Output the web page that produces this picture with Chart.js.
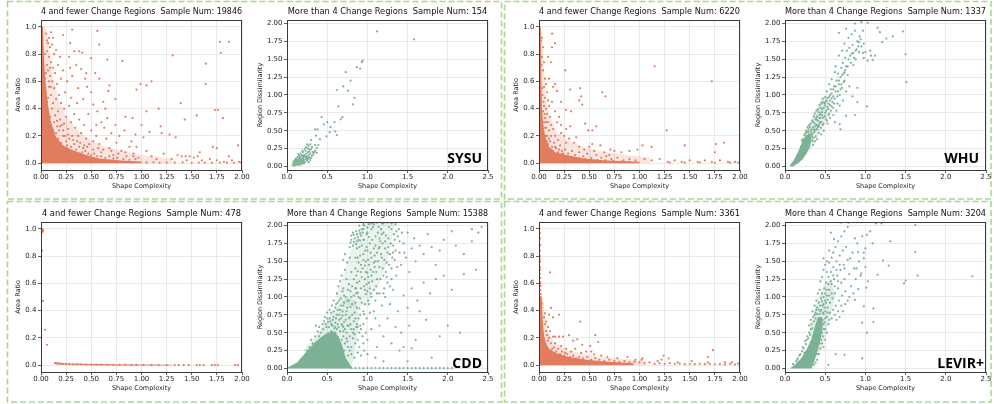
<!DOCTYPE html>
<html><head><meta charset="utf-8">
<script src="https://cdn.jsdelivr.net/npm/chart.js@4.4.0/dist/chart.umd.min.js"></script>
<style>
html,body{margin:0;padding:0;background:#fff;width:994px;height:404px;overflow:hidden;}
#wrap{position:relative;width:994px;height:404px;overflow:hidden;}
canvas{position:absolute;}
svg{position:absolute;left:0;top:0;}
.tag{position:absolute;font-family:'Open Sans',sans-serif;font-weight:700;font-size:14px;line-height:14px;color:#000;white-space:nowrap;text-align:right;}
</style></head><body><div id="wrap">
<svg width="994" height="404"><g fill="none" stroke="#a9d78e" stroke-width="1.6" stroke-dasharray="6 3">
<rect x="7.5" y="1.5" width="494" height="197.5"/>
<rect x="504.5" y="1.5" width="486.5" height="197.5"/>
<rect x="7.5" y="201.5" width="494" height="200.5"/>
<rect x="504.5" y="201.5" width="486.5" height="200.5"/>
</g></svg>
</div>
<script>
// ---------- labels / counts ----------
const datasetNames = ['SYSU', 'WHU', 'CDD', 'LEVIR+'];
const fewCounts = [19846, 6220, 478, 3361];
const moreCounts = [154, 1337, 15388, 3204];
const fewTitle = '4 and fewer Change Regions  Sample Num: ';
const moreTitle = 'More than 4 Change Regions  Sample Num: ';

// ---------- tick values ----------
const fewXTicks = [0, 0.25, 0.5, 0.75, 1, 1.25, 1.5, 1.75, 2];
const fewYTicks = [0, 0.2, 0.4, 0.6, 0.8, 1];
const moreXTicks = [0, 0.5, 1, 1.5, 2, 2.5];
const moreYTicks = [0, 0.25, 0.5, 0.75, 1, 1.25, 1.5, 1.75, 2];

// ---------- SYSU ----------
const sysuFewCore = [[0,1.0],[0.02,1.0],[0.026,0.85],[0.035,0.7],[0.045,0.6],[0.058,0.5],[0.075,0.4],[0.1,0.3],[0.15,0.19],[0.22,0.13],[0.32,0.095],[0.45,0.06],[0.58,0.035],[0.8,0.02],[1.0,0.012],[1.0,0],[0,0]];
const sysuFewHalo = [[0,1.0],[0.04,1.0],[0.07,0.9],[0.09,0.8],[0.13,0.6],[0.18,0.45],[0.25,0.35],[0.35,0.25],[0.45,0.19],[0.6,0.13],[0.78,0.095],[1.0,0.06],[1.3,0.035],[1.3,0],[0,0]];
const sysuFewPts = [[0.31,0.98],[0.56,0.97],[0.22,0.94],[0.10,0.96],[0.29,0.88],[0.58,0.87],[1.31,0.79],[0.81,0.75],[0.66,0.76],[1.87,0.89],[1.78,0.89],[1.79,0.81],[1.64,0.73],[1.64,0.58],[0.95,0.54],[0.99,0.58],[1.05,0.57],[1.10,0.60],[0.68,0.57],[0.67,0.53],[0.74,0.47],[0.64,0.40],[1.17,0.40],[1.05,0.38],[1.39,0.44],[1.43,0.32],[1.55,0.35],[1.73,0.39],[1.76,0.39],[1.81,0.33],[1.75,0.11],[1.96,0.13],[1.87,0.05],[0.84,0.34],[0.91,0.33],[1.00,0.28],[1.19,0.27],[1.20,0.22],[1.28,0.21],[1.34,0.19],[0.94,0.21],[1.02,0.19],[1.08,0.23],[1.40,0.05],[1.44,0.05],[1.48,0.05],[1.56,0.05],[1.58,0.08],[1.71,0.12],
[0.05,0.95],[0.07,0.88],[0.06,0.82],[0.09,0.85],[0.11,0.87],[0.08,0.78],[0.1,0.74],[0.13,0.8],[0.15,0.83],[0.12,0.7],[0.07,0.68],[0.09,0.64],[0.14,0.66],[0.17,0.72],[0.19,0.78],[0.11,0.6],[0.16,0.58],[0.13,0.55],[0.08,0.56],[0.2,0.62],[0.22,0.68],[0.18,0.5],[0.1,0.5],[0.15,0.47],[0.12,0.44],[0.2,0.44],[0.24,0.52],[0.26,0.6],[0.23,0.4],[0.17,0.38],[0.28,0.42],[0.3,0.48],[0.14,0.35],[0.19,0.32],[0.25,0.34],[0.21,0.28],[0.3,0.3],[0.33,0.36],[0.36,0.44],[0.27,0.25],[0.16,0.27],[0.34,0.26],[0.38,0.32],[0.4,0.22],[0.31,0.2],[0.22,0.2],[0.25,0.16],[0.36,0.16],[0.43,0.28],[0.45,0.18],[0.5,0.24],[0.48,0.14],[0.55,0.2],[0.42,0.11],[0.52,0.1],[0.58,0.14],[0.6,0.08],[0.65,0.18],[0.68,0.11],[0.72,0.06],[0.75,0.15],[0.8,0.09],[0.85,0.05],[0.88,0.12],[0.92,0.07],[0.97,0.04],[1.05,0.09],[1.1,0.05],[1.15,0.03],[1.22,0.07],[1.3,0.03],[1.36,0.06],[1.45,0.02],[1.52,0.04],[1.6,0.02],[1.68,0.03],[1.75,0.02],[1.82,0.01],[1.9,0.02],[1.97,0.01],
[0.28,0.78],[0.33,0.82],[0.38,0.82],[0.41,0.81],[0.35,0.72],[0.29,0.7],[0.4,0.69],[0.44,0.62],[0.31,0.64],[0.46,0.56],[0.5,0.52],[0.37,0.55],[0.42,0.47],[0.52,0.43],[0.56,0.38],[0.47,0.36],[0.6,0.3],[0.55,0.28],[0.63,0.26],[0.7,0.22],[0.66,0.33],[0.74,0.28],[0.78,0.2],[0.83,0.24],[0.9,0.16],[0.95,0.12],[0.62,0.45],[0.58,0.62],[0.5,0.77],[0.45,0.66],[0.54,0.66],
[0.04,0.62],[0.05,0.52],[0.06,0.45],[0.07,0.38],[0.09,0.34],[0.1,0.28],[0.12,0.24],[0.13,0.3],[0.15,0.22],[0.17,0.18],[0.18,0.24],[0.2,0.15],[0.22,0.24],[0.24,0.2],[0.26,0.13],[0.28,0.18],[0.3,0.12],[0.33,0.14],[0.35,0.1],[0.38,0.12],[0.41,0.08],[0.44,0.09],[0.47,0.07],[0.5,0.06],[0.53,0.07],[0.56,0.05],[0.6,0.05],[0.64,0.04],[0.68,0.05],[0.72,0.035],[0.76,0.04],[0.82,0.03],[0.88,0.025],[0.94,0.03],[0.06,0.72],[0.05,0.66],[0.08,0.6],[0.07,0.48],[0.11,0.4],[0.1,0.56],[0.09,0.7],[0.06,0.9],[0.08,0.92],[0.12,0.92],[0.04,0.8],[0.16,0.31],[0.19,0.27],[0.23,0.29],[0.27,0.21],[0.32,0.17],[0.37,0.2],[0.39,0.15],[0.43,0.13],[0.46,0.12],[0.52,0.16],[0.57,0.11],[0.62,0.1],[0.7,0.09],[0.77,0.07],[0.84,0.08],[0.92,0.05],
[1.05,0.004],[1.12,0.006],[1.18,0.003],[1.25,0.005],[1.33,0.004],[1.41,0.006],[1.5,0.003],[1.57,0.005],[1.63,0.004],[1.7,0.003],[1.78,0.005],[1.85,0.004],[1.92,0.003],[1.99,0.005]];
const sysuMorePts = [[1.12,1.89],[1.58,1.78],[0.94,1.48],[0.93,1.46],[0.87,1.39],[0.91,1.37],[0.73,1.32],[0.79,1.2],[0.70,1.12],[0.62,1.07],[0.76,1.06],[0.84,0.96],[0.82,0.87],[0.64,0.84],[0.69,0.69],[0.67,0.66],[0.43,0.69],[0.50,0.62],[0.59,0.62],[0.46,0.59],[0.54,0.55],[0.53,0.48],[0.49,0.42],[0.60,0.49],[0.62,0.44],[0.35,0.52],[0.38,0.52],[0.36,0.43],[0.41,0.38],[0.30,0.37],[0.35,0.30],[0.39,0.30],[0.25,0.31],[0.31,0.27],[0.28,0.24],[0.34,0.2],[0.37,0.19],
[0.07,0.02],[0.08,0.04],[0.09,0.01],[0.1,0.03],[0.1,0.06],[0.11,0.02],[0.11,0.08],[0.12,0.04],[0.12,0.1],[0.13,0.03],[0.13,0.06],[0.13,0.13],[0.14,0.05],[0.14,0.08],[0.15,0.02],[0.15,0.11],[0.15,0.15],[0.16,0.04],[0.16,0.07],[0.16,0.09],[0.17,0.06],[0.17,0.12],[0.17,0.18],[0.18,0.03],[0.18,0.08],[0.18,0.1],[0.19,0.05],[0.19,0.14],[0.2,0.07],[0.2,0.11],[0.2,0.2],[0.21,0.09],[0.21,0.13],[0.22,0.06],[0.22,0.16],[0.23,0.1],[0.23,0.22],[0.24,0.12],[0.24,0.18],[0.25,0.08],[0.25,0.14],[0.26,0.2],[0.26,0.25],[0.27,0.11],[0.27,0.16],[0.28,0.13],[0.28,0.21],[0.29,0.18],[0.3,0.12],[0.3,0.24],[0.31,0.15],[0.32,0.2],[0.33,0.17],[0.24,0.27],[0.22,0.25],[0.19,0.22],[0.14,0.17],[0.09,0.05],[0.08,0.07],[0.12,0.07],[0.16,0.13],[0.21,0.04],[0.25,0.1],[0.29,0.09],[0.27,0.06],[0.19,0.09],[0.13,0.09],[0.11,0.11],[0.18,0.16],[0.23,0.14],[0.2,0.15],[0.15,0.07],[0.1,0.09],[0.26,0.12],[0.35,0.22],[0.37,0.26],[0.27,0.29],[0.29,0.31]];

// ---------- WHU ----------
const whuFewCore = [[0,1.0],[0.017,1.0],[0.02,0.8],[0.024,0.6],[0.03,0.4],[0.04,0.3],[0.056,0.22],[0.075,0.16],[0.1,0.12],[0.16,0.08],[0.27,0.06],[0.45,0.035],[0.67,0.02],[1.0,0.01],[1.0,0],[0,0]];
const whuFewHalo = [[0,1.0],[0.017,1.0],[0.03,0.95],[0.04,0.8],[0.055,0.6],[0.07,0.46],[0.1,0.35],[0.19,0.22],[0.3,0.16],[0.44,0.12],[0.6,0.09],[0.87,0.06],[1.1,0.04],[1.1,0],[0,0]];
const whuFewPts = [[0.13,0.95],[0.16,0.88],[0.13,0.85],[1.15,0.71],[1.72,0.6],[0.26,0.68],[0.16,0.58],[0.18,0.53],[0.31,0.54],[0.41,0.55],[0.42,0.49],[0.40,0.46],[0.43,0.43],[0.63,0.52],[0.66,0.49],[0.27,0.39],[0.32,0.38],[0.46,0.29],[0.57,0.27],[0.49,0.24],[0.53,0.24],[0.22,0.28],[0.27,0.25],[0.31,0.27],[0.37,0.19],[1.27,0.24],[1.45,0.13],[1.76,0.14],[1.84,0.15],[1.75,0.08],[1.03,0.13],[1.12,0.12],[0.98,0.10],[0.90,0.09],[0.71,0.10],[0.75,0.09],[0.82,0.08],[0.61,0.13],[0.53,0.14],
[0.03,0.92],[0.04,0.85],[0.03,0.78],[0.05,0.74],[0.04,0.68],[0.06,0.62],[0.05,0.56],[0.07,0.58],[0.08,0.52],[0.06,0.48],[0.09,0.46],[0.05,0.42],[0.07,0.4],[0.1,0.42],[0.08,0.36],[0.11,0.34],[0.06,0.33],[0.09,0.3],[0.12,0.28],[0.07,0.26],[0.1,0.24],[0.14,0.25],[0.08,0.2],[0.12,0.2],[0.16,0.2],[0.11,0.16],[0.15,0.15],[0.19,0.17],[0.13,0.12],[0.17,0.11],[0.21,0.13],[0.23,0.09],[0.19,0.08],[0.26,0.1],[0.29,0.07],[0.33,0.09],[0.36,0.06],[0.4,0.08],[0.44,0.05],[0.48,0.07],[0.52,0.04],[0.57,0.06],[0.62,0.04],[0.67,0.05],[0.72,0.03],[0.78,0.04],[0.84,0.02],[0.9,0.03],[0.96,0.02],[1.05,0.03],[1.12,0.02],[1.2,0.03],[1.28,0.01],[1.35,0.02],[1.42,0.01],[1.5,0.02],[1.58,0.01],[1.65,0.02],[1.72,0.01],[1.8,0.02],[1.88,0.01],[1.95,0.01],[1.3,0.005],[1.45,0.004],[1.6,0.005],[1.75,0.003],[1.9,0.004],[1.98,0.005],[0.1,0.62],[0.12,0.74],[0.09,0.78],[0.14,0.56],[0.13,0.45],[0.16,0.38],[0.2,0.34],[0.22,0.45],[0.18,0.3],[0.25,0.2],[0.3,0.18],[0.35,0.15],[0.27,0.15],[0.22,0.22],[0.4,0.12],[0.45,0.1],[0.5,0.12],[0.55,0.09],[0.65,0.08],[0.7,0.06],
[0.02,0.9],[0.025,0.72],[0.03,0.55],[0.035,0.5],[0.04,0.38],[0.045,0.45],[0.05,0.3],[0.055,0.36],[0.06,0.26],[0.065,0.2],[0.07,0.3],[0.08,0.16],[0.09,0.14],[0.1,0.18],[0.12,0.1],[0.14,0.09],[0.16,0.12],[0.18,0.07],[0.2,0.1],[0.22,0.065],[0.24,0.07],[0.28,0.05],[0.32,0.045],[0.36,0.04],[0.4,0.035],[0.46,0.03],[0.52,0.025],[0.58,0.022],[0.66,0.02],[0.74,0.015],[0.82,0.012],[0.9,0.01]];
const whuMoreCore = [[0.06,0.0],[0.1,0.0],[0.16,0.04],[0.22,0.1],[0.27,0.18],[0.31,0.28],[0.33,0.38],[0.31,0.45],[0.26,0.44],[0.21,0.33],[0.16,0.2],[0.11,0.09],[0.07,0.03]];
const whuMoreHalo = [[0.2,0.35],[0.3,0.6],[0.38,0.78],[0.45,0.95],[0.52,1.0],[0.55,0.85],[0.5,0.65],[0.42,0.45],[0.36,0.3],[0.3,0.2]];
const whuMorePts = [[0.95,2.02],[1.03,2.01],[0.87,2.0],[0.67,1.87],[0.76,1.93],[1.15,1.94],[1.47,1.89],[1.34,1.82],[1.26,1.79],[1.21,1.74],[1.5,1.57],[1.51,1.18],[1.02,0.84],[1.07,1.55],[1.09,1.49],[0.92,1.74],[0.89,1.64],[0.85,1.59],[0.97,1.59],[0.9,1.1],[0.9,0.9],[0.76,0.71],[0.87,0.72],[0.69,0.52],[0.68,0.59],
[0.28,0.35],[0.3,0.45],[0.32,0.5],[0.33,0.42],[0.35,0.55],[0.34,0.36],[0.36,0.48],[0.37,0.6],[0.38,0.42],[0.39,0.52],[0.4,0.65],[0.41,0.58],[0.42,0.47],[0.43,0.72],[0.44,0.62],[0.45,0.54],[0.46,0.8],[0.47,0.68],[0.48,0.6],[0.49,0.88],[0.5,0.75],[0.51,0.66],[0.52,0.92],[0.53,0.83],[0.54,0.72],[0.55,0.97],[0.56,0.86],[0.57,0.78],[0.58,1.02],[0.59,0.9],[0.6,0.82],[0.61,1.12],[0.62,0.95],[0.63,1.05],[0.64,1.2],[0.65,0.88],[0.66,1.3],[0.67,1.15],[0.68,1.0],[0.69,1.25],[0.7,1.38],[0.71,1.1],[0.72,1.45],[0.73,1.3],[0.74,1.2],[0.75,1.52],[0.76,1.4],[0.77,1.62],[0.78,1.28],[0.79,1.5],[0.8,1.66],[0.82,1.45],[0.83,1.58],[0.84,1.7],[0.86,1.52],[0.88,1.62],[0.9,1.75],[0.92,1.6],[0.95,1.68],[0.98,1.52],[1.0,1.6],[1.03,1.48],[0.62,1.32],[0.58,1.22],[0.55,1.15],[0.52,1.05],[0.5,0.97],[0.47,0.9],[0.44,0.82],[0.42,0.76],[0.4,0.7],[0.38,0.66],[0.53,0.6],[0.56,0.68],[0.6,0.72],[0.64,0.78],[0.68,0.85],[0.72,0.92],[0.76,1.05],[0.8,1.12],[0.84,0.98],[0.62,0.62],[0.45,0.45],[0.48,0.5],[0.35,0.3],[0.37,0.35],[0.4,0.38],[0.26,0.5],[0.28,0.55],[0.3,0.58],[0.22,0.38],[0.24,0.44],[0.5,0.7],[0.54,0.8],[0.58,0.95],[0.66,1.05],[0.7,1.15],[0.74,1.32],[0.63,1.4],[0.67,1.55],[0.71,1.62],[0.74,1.72],[0.79,1.8],[0.83,1.85],[0.87,1.9],[0.93,1.82],[0.97,1.9],[0.44,0.68],[0.46,0.72],[0.5,0.85],[0.56,1.0],[0.6,1.08],[0.41,0.55],[0.43,0.6],[0.39,0.58],[0.36,0.52],[0.33,0.47],[0.31,0.4],[0.29,0.48],[0.27,0.42],
[0.2,0.28],[0.21,0.36],[0.23,0.3],[0.24,0.38],[0.25,0.46],[0.26,0.33],[0.27,0.48],[0.28,0.4],[0.29,0.52],[0.3,0.36],[0.31,0.55],[0.32,0.44],[0.32,0.6],[0.33,0.52],[0.34,0.64],[0.35,0.4],[0.35,0.62],[0.36,0.7],[0.37,0.5],[0.37,0.74],[0.38,0.56],[0.39,0.68],[0.39,0.78],[0.4,0.52],[0.41,0.64],[0.41,0.8],[0.42,0.56],[0.43,0.68],[0.43,0.86],[0.44,0.74],[0.45,0.62],[0.45,0.88],[0.46,0.76],[0.47,0.58],[0.47,0.95],[0.48,0.82],[0.49,0.7],[0.5,0.9],[0.51,0.78],[0.52,0.64],[0.53,0.96],[0.54,0.88],[0.55,0.74],[0.56,0.92],[0.57,1.08],[0.58,0.84],[0.6,0.98],[0.61,0.88],[0.63,1.12],[0.65,0.98],[0.67,1.2],[0.69,1.08],[0.71,1.28],[0.73,1.18],[0.75,1.35],[0.78,1.4],[0.81,1.55],[0.85,1.42],[0.88,1.5],[0.91,1.68],[0.94,1.78],[0.98,1.72],[1.06,1.62],[1.12,1.55],[1.18,1.88],[0.23,0.2],[0.26,0.24],[0.29,0.28],[0.3,0.32],[0.34,0.45]];

// ---------- CDD ----------
const cddFewCore = [[0.14,0.02],[0.25,0.013],[0.5,0.008],[0.9,0.005],[1.3,0.003],[1.3,-0.003],[0.9,-0.002],[0.5,0.0],[0.14,0.006]];
const cddFewPts = [[0.005,0.99],[0.01,0.98],[0.015,0.99],[0.02,0.985],[0.008,1.0],[0.012,0.975],[0.018,0.995],[0.003,0.98],[0.01,0.84],[0.02,0.47],[0.04,0.26],[0.06,0.15],
[0.14,0.015],[0.16,0.013],[0.18,0.012],[0.2,0.011],[0.22,0.01],[0.25,0.009],[0.28,0.008],[0.32,0.007],[0.36,0.007],[0.4,0.007],[0.45,0.005],[0.5,0.005],[0.55,0.004],[0.6,0.004],[0.66,0.003],[0.72,0.003],[0.78,0.003],[0.84,0.003],[0.9,0.002],[0.95,0.002],[1.02,0.002],[1.1,0.002],[1.17,0.001],[1.25,0.001],[1.33,0.001],[1.37,0.001],[1.42,0.001],[1.47,0.001],[1.55,0.001],[1.58,0.001],[1.62,0.001],[1.7,0.001],[1.73,0.001],[1.76,0.001],[1.93,0.001],[1.96,0.001]];
const cddMoreCore = [[0,0],[0,0.01],[0.125,0.083],[0.25,0.245],[0.33,0.35],[0.415,0.43],[0.5,0.5],[0.58,0.52],[0.64,0.45],[0.69,0.31],[0.73,0.15],[0.79,0.04],[0.82,0.0]];
const cddMoreHaloMid = [[0.2,0.25],[0.33,0.42],[0.42,0.55],[0.5,0.68],[0.58,0.8],[0.66,0.92],[0.75,1.0],[0.85,0.95],[0.9,0.75],[0.88,0.5],[0.85,0.3],[0.82,0.1],[0.8,0.0],[0.5,0.0]];
const cddMoreHaloTop = [[0.6,1.0],[0.7,1.3],[0.78,1.6],[0.85,1.85],[0.95,2.05],[1.35,2.05],[1.3,1.8],[1.25,1.5],[1.15,1.2],[1.0,0.9],[0.85,0.85],[0.7,0.9]];
const cddMorePts = [[0.45,0.55],[0.48,0.62],[0.5,0.7],[0.52,0.58],[0.54,0.66],[0.55,0.78],[0.57,0.6],[0.58,0.72],[0.6,0.85],[0.6,0.64],[0.62,0.75],[0.63,0.92],[0.64,0.58],[0.65,0.68],[0.66,0.82],[0.67,0.98],[0.68,0.62],[0.69,0.74],[0.7,0.88],[0.71,1.02],[0.72,0.55],[0.73,0.68],[0.74,0.8],[0.75,0.95],[0.76,1.1],[0.77,0.6],[0.78,0.72],[0.79,0.86],[0.8,1.0],[0.81,1.15],[0.82,0.5],[0.83,0.66],[0.84,0.78],[0.85,0.92],[0.86,1.05],[0.87,1.2],[0.88,0.58],[0.89,0.7],[0.9,0.84],[0.91,0.98],[0.92,1.12],[0.93,1.28],[0.94,0.45],[0.95,0.62],[0.96,0.76],[0.97,0.9],[0.98,1.04],[0.99,1.18],[1.0,1.34],[0.56,0.88],[0.58,0.95],[0.62,1.05],[0.64,1.15],[0.66,1.22],[0.68,1.3],[0.7,1.12],[0.72,1.38],[0.74,1.25],[0.53,0.82],[0.5,0.78],[0.47,0.72],[0.44,0.62],[0.42,0.5],[0.4,0.45],[0.6,0.5],[0.7,0.45],[0.75,0.38],[0.8,0.3],[0.85,0.35],[0.78,0.25],[0.72,0.35],[0.82,0.42],[0.9,0.3],[0.88,0.4],[0.95,0.35],[1.0,0.4],[0.92,0.55],
[0.85,1.4],[0.88,1.55],[0.9,1.7],[0.92,1.45],[0.95,1.6],[0.96,1.8],[0.98,1.5],[1.0,1.65],[1.0,1.9],[1.02,1.45],[1.03,1.75],[1.05,1.55],[1.05,1.95],[1.07,1.35],[1.08,1.68],[1.1,1.85],[1.1,1.5],[1.12,1.25],[1.12,1.62],[1.14,1.98],[1.15,1.42],[1.16,1.78],[1.18,1.55],[1.2,1.3],[1.2,1.9],[1.22,1.68],[1.24,1.48],[1.25,1.2],[1.26,1.82],[1.28,1.6],[1.3,1.4],[1.3,1.95],[1.32,1.72],[1.34,1.52],[1.36,1.3],[1.38,1.85],[1.4,1.62],[1.42,1.45],[1.45,1.75],[1.48,1.55],[1.5,1.9],[1.52,1.35],[1.55,1.68],[1.58,1.82],[1.6,1.5],[1.65,1.72],[1.7,1.6],[1.75,1.88],[1.8,1.7],[1.85,1.45],[1.9,1.65],[1.95,1.8],[2.05,1.92],[2.1,1.72],[2.2,1.6],[2.3,1.78],[2.42,1.98],[2.3,1.95],[2.38,1.9],
[0.82,1.9],[0.86,1.92],[0.9,1.93],[0.95,1.95],[1.0,1.97],[0.8,1.8],[0.84,1.82],[0.88,1.84],[0.92,1.86],[0.78,1.7],[0.82,1.72],[0.86,1.74],[0.9,2.0],[0.95,2.02],[1.05,2.03],[1.2,2.03],[1.35,2.02],[0.7,1.52],[0.72,1.6],[0.75,1.48],[0.78,1.55],[0.8,1.35],[0.83,1.25],[0.86,1.3],[0.9,1.22],[0.94,1.4],[0.96,1.15],[1.02,1.2],[1.04,1.05],[1.08,1.1],[1.1,0.95],[1.15,1.05],[1.18,0.88],[1.22,1.0],[1.28,0.9],[1.32,1.1],[1.38,0.8],[1.45,1.02],[1.5,0.85],[1.55,1.12],[1.62,0.95],[1.7,1.2],[1.78,1.05],[1.85,1.25],[1.95,1.3],[2.05,1.1],[2.2,1.32],[2.35,1.38],[2.15,0.5],[1.52,0.6],[1.6,0.4],[1.73,0.68],[1.42,0.5],[1.35,0.58],[1.25,0.7],[1.15,0.6],[1.2,0.45],[1.1,0.7],[1.05,0.55],[1.08,0.8],[1.02,0.9],[1.3,0.35],[1.45,0.3],[1.55,0.28],[1.9,0.45],[2.0,0.6],[1.65,0.8],[1.4,0.25],[1.12,0.3],[1.0,0.2],[1.1,0.15],[1.2,0.1],[1.5,0.1],[1.8,0.15],
[0.86,1.12],[0.88,1.36],[0.89,1.48],[0.91,1.58],[0.93,1.72],[0.94,1.9],[0.97,1.25],[0.97,1.44],[0.99,1.7],[1.0,1.08],[1.01,1.28],[1.01,1.52],[1.02,1.84],[1.04,1.38],[1.04,1.62],[1.06,1.22],[1.06,1.8],[1.07,1.98],[1.09,1.42],[1.09,1.58],[1.1,1.72],[1.11,1.15],[1.11,1.35],[1.13,1.5],[1.13,1.9],[1.14,1.68],[1.16,1.25],[1.17,1.6],[1.17,1.95],[1.19,1.4],[1.19,1.75],[1.21,1.52],[1.21,1.12],[1.23,1.86],[1.23,1.35],[1.25,1.62],[1.27,1.45],[1.27,1.98],[1.29,1.75],[1.31,1.55],[1.33,1.88],[1.35,1.65],[1.37,1.42],[1.39,1.95],[0.96,2.0],[1.02,2.02],[1.08,2.02],[1.12,2.04],[1.18,2.03],[1.25,2.04],[1.3,2.03],[0.98,1.35],[1.03,1.12],[1.05,1.3],[1.08,1.48],[1.12,1.05],[1.15,1.82],[1.2,1.05],[1.24,1.28],[1.28,1.15],[1.3,1.25],[0.88,1.06],[0.92,1.35],[0.95,1.52],[0.97,1.65],[0.99,1.88],[0.85,1.55],[0.87,1.68],[0.89,1.8],[0.93,1.95],[1.15,1.7],[1.18,1.88],[1.22,1.78],[1.26,1.7],[1.32,1.62],[1.34,1.8],[1.36,1.92],[1.4,1.78],[1.43,1.9],[1.46,1.62],
[0.8,1.86],[0.83,1.87],[0.87,1.88],[0.91,1.89],[0.79,1.76],[0.83,1.77],[0.87,1.78],[0.91,1.79],[0.95,1.8],
[0.46,0.66],[0.49,0.58],[0.51,0.65],[0.53,0.7],[0.55,0.62],[0.57,0.68],[0.58,0.8],[0.59,0.56],[0.61,0.7],[0.61,0.9],[0.63,0.62],[0.63,0.82],[0.65,0.75],[0.65,0.95],[0.67,0.7],[0.67,0.88],[0.69,0.6],[0.69,0.8],[0.69,1.08],[0.71,0.65],[0.71,0.92],[0.73,0.75],[0.73,1.0],[0.75,0.6],[0.75,0.85],[0.77,0.7],[0.77,0.95],[0.77,1.18],[0.79,0.62],[0.79,1.08],[0.81,0.75],[0.81,0.9],[0.83,0.55],[0.83,1.02],[0.85,0.7],[0.85,1.12],[0.87,0.85],[0.87,0.62],[0.89,1.0],[0.91,0.75],[0.91,0.6],[0.93,0.92],[0.95,0.8],[0.97,1.1],[0.99,0.7],[1.01,0.95],[1.03,0.78],[1.05,1.0],[0.55,0.52],[0.62,0.55],[0.66,0.52],[0.7,0.58],[0.74,0.5],[0.78,0.45],[0.8,0.55],[0.84,0.48],[0.86,0.58],[0.9,0.5],[0.66,0.35],[0.71,0.25],[0.76,0.18],[0.8,0.2],[0.84,0.15],[0.88,0.22],[0.92,0.18],[0.96,0.25],[0.98,0.5],[0.76,0.3],[0.74,0.42],[0.68,0.4],[0.7,0.52],[0.6,0.58],[0.56,0.6],
[0.8,0.005],[0.85,0.004],[0.9,0.006],[0.95,0.003],[1.0,0.005],[1.05,0.004],[1.1,0.006],[1.15,0.003],[1.2,0.005],[1.25,0.004],[1.3,0.005],[1.35,0.003],[1.4,0.004],[1.45,0.005],[1.5,0.003],[1.55,0.004],[1.6,0.005],[1.65,0.003],[1.7,0.004],[1.75,0.003],[1.8,0.004],[1.85,0.003],[1.9,0.005],[1.95,0.003],[2.0,0.004],[2.05,0.003],
[0.3,0.4],[0.35,0.45],[0.38,0.52],[0.32,0.35],[0.28,0.3],[0.25,0.25],[0.36,0.6],[0.4,0.58]];

// ---------- LEVIR+ ----------
const levirFewCore = [[0.005,0.5],[0.025,0.5],[0.032,0.4],[0.04,0.3],[0.05,0.22],[0.07,0.16],[0.1,0.12],[0.17,0.09],[0.3,0.06],[0.47,0.04],[0.7,0.025],[0.94,0.015],[0.94,0],[0.005,0]];
const levirFewHalo = [[0.005,0.5],[0.04,0.5],[0.06,0.35],[0.09,0.25],[0.14,0.18],[0.25,0.12],[0.4,0.09],[0.6,0.06],[0.85,0.045],[1.05,0.03],[1.05,0],[0.005,0]];
const levirFewPts = [[0.005,1.0],[0.008,0.97],[0.01,0.93],[0.012,0.88],[0.007,0.84],[0.01,0.8],[0.006,0.78],[0.011,0.76],[0.009,0.72],[0.013,0.7],[0.008,0.67],[0.012,0.64],[0.01,0.61],[0.014,0.6],[0.016,0.58],[0.011,0.55],[0.018,0.52],[0.015,0.5],[0.02,0.48],[0.022,0.46],[0.017,0.44],[0.025,0.42],[0.03,0.45],
[0.11,0.68],[0.12,0.42],[0.10,0.37],[0.14,0.35],[0.20,0.37],[0.41,0.32],[0.30,0.22],[0.38,0.19],[0.43,0.15],[0.51,0.14],[0.52,0.10],[0.56,0.22],[0.59,0.17],[1.73,0.11],[1.68,0.06],[1.24,0.07],[1.29,0.05],[1.03,0.05],[0.16,0.21],[0.2,0.21],[0.24,0.21],[0.34,0.18],[0.26,0.09],
[0.05,0.35],[0.06,0.3],[0.07,0.25],[0.08,0.22],[0.09,0.18],[0.1,0.2],[0.12,0.16],[0.13,0.12],[0.15,0.13],[0.17,0.1],[0.19,0.12],[0.21,0.08],[0.23,0.1],[0.25,0.07],[0.28,0.08],[0.31,0.06],[0.34,0.07],[0.37,0.05],[0.4,0.06],[0.44,0.05],[0.48,0.06],[0.52,0.04],[0.56,0.05],[0.6,0.04],[0.65,0.03],[0.7,0.04],[0.75,0.03],[0.8,0.025],[0.85,0.03],[0.9,0.02],[0.95,0.025],[1.0,0.02],[1.05,0.015],[1.1,0.02],[1.15,0.01],[1.2,0.015],[1.25,0.01],[1.3,0.015],[1.35,0.01],[1.4,0.012],[1.45,0.008],[1.5,0.01],[1.55,0.008],[1.6,0.01],[1.65,0.008],[1.7,0.01],[1.75,0.006],[1.8,0.008],[1.85,0.005],[1.9,0.01],[1.95,0.005],[1.98,0.012],[0.11,0.25],[0.14,0.21],[0.09,0.28],[0.06,0.38],[0.07,0.32],[0.16,0.16],[0.22,0.14],[0.27,0.12],[0.32,0.1],[0.36,0.12],[0.42,0.09],[0.47,0.1],[0.55,0.08],[0.62,0.07],[0.68,0.06],[0.78,0.05],[0.88,0.06],[0.96,0.04],[1.02,0.04],[1.18,0.03],[1.22,0.04],[1.38,0.02],[1.52,0.03],[1.68,0.02],[1.85,0.02],[1.92,0.02]];
const levirMoreCore = [[0.06,0.0],[0.33,0.0],[0.38,0.15],[0.42,0.3],[0.45,0.45],[0.47,0.6],[0.46,0.72],[0.41,0.72],[0.37,0.58],[0.33,0.42],[0.27,0.27],[0.2,0.14],[0.12,0.05]];
const levirMoreHalo = [[0.3,0.5],[0.36,0.8],[0.42,1.0],[0.5,1.2],[0.58,1.25],[0.62,1.0],[0.58,0.8],[0.52,0.55],[0.48,0.35],[0.42,0.2]];
const levirMorePts = [[0.69,2.04],[0.79,2.04],[1.13,2.03],[1.2,2.03],[1.62,2.01],[1.62,1.63],[1.31,1.78],[1.22,1.51],[1.29,1.44],[1.15,1.31],[1.65,1.3],[2.33,1.29],[1.5,1.23],[1.48,1.19],[1.1,0.84],[1.1,0.65],[1.02,0.5],[0.96,0.64],[0.74,0.19],[0.63,0.2],[0.96,0.14],[0.54,0.05],[0.57,1.9],[0.61,1.81],[1.02,1.87],[1.06,1.92],[1.09,1.75],[1.0,1.68],[0.98,1.54],[0.91,1.63],[0.87,1.82],[0.81,1.54],[0.74,1.4],[0.89,1.4],[0.95,1.33],[1.03,1.22],[1.01,1.13],[0.91,1.11],[0.87,0.96],[0.98,0.87],[0.48,1.54],[0.52,1.5],[0.55,1.65],
[0.38,0.78],[0.4,0.85],[0.42,0.92],[0.44,0.8],[0.45,0.98],[0.46,1.05],[0.47,0.88],[0.48,0.76],[0.49,1.12],[0.5,0.95],[0.5,0.7],[0.51,1.2],[0.52,1.02],[0.53,0.85],[0.54,1.28],[0.55,1.1],[0.56,0.92],[0.57,1.35],[0.58,1.18],[0.59,0.98],[0.6,1.42],[0.61,1.25],[0.62,1.05],[0.63,0.88],[0.64,1.5],[0.65,1.3],[0.66,1.12],[0.67,0.95],[0.68,1.58],[0.69,1.38],[0.7,1.2],[0.71,1.02],[0.72,1.65],[0.73,1.45],[0.74,1.25],[0.75,1.08],[0.76,1.7],[0.78,1.52],[0.8,1.32],[0.82,1.15],[0.84,1.62],[0.86,1.4],[0.88,1.25],[0.9,1.75],[0.92,1.5],[0.94,1.3],[0.96,1.85],[0.98,1.62],[1.0,1.42],[0.35,0.72],[0.37,0.88],[0.39,0.95],[0.41,1.05],[0.43,1.1],[0.44,1.22],[0.46,1.28],[0.48,1.38],[0.5,1.45],[0.52,1.35],[0.55,1.48],[0.58,1.55],[0.6,1.62],[0.63,1.7],[0.66,1.78],[0.7,1.85],[0.74,1.92],[0.78,1.98],[0.3,0.6],[0.32,0.68],[0.34,0.8],[0.48,0.62],[0.5,0.55],[0.52,0.72],[0.54,0.62],[0.56,0.78],[0.58,0.7],[0.6,0.82],[0.62,0.75],[0.64,0.68],[0.66,0.8],[0.68,0.72],[0.7,0.88],[0.72,0.8],[0.75,0.9],[0.78,0.95],[0.8,1.0],[0.85,1.05],[0.45,0.4],[0.47,0.45],[0.5,0.4],[0.48,0.3],[0.42,0.2],[0.4,0.12],[0.36,0.05],[0.38,0.08],[0.22,0.3],[0.25,0.38],[0.28,0.45],[0.3,0.5],[0.24,0.22],[0.18,0.18],[0.15,0.12],
[0.1,0.06],[0.14,0.1],[0.16,0.14],[0.19,0.2],[0.21,0.24],[0.23,0.28],[0.26,0.34],[0.27,0.4],[0.29,0.42],[0.31,0.47],[0.32,0.55],[0.33,0.62],[0.34,0.56],[0.36,0.66],[0.37,0.75],[0.38,0.7],[0.39,0.82],[0.4,0.76],[0.42,0.82],[0.43,0.76],[0.44,0.88],[0.45,0.82],[0.46,0.94],[0.47,0.78],[0.48,0.9],[0.48,1.0],[0.49,0.85],[0.5,1.05],[0.51,0.92],[0.52,1.1],[0.53,0.96],[0.54,1.18],[0.55,1.02],[0.57,1.22],[0.58,1.05],[0.6,1.3],[0.62,1.15],[0.64,1.38],[0.66,1.22],[0.68,1.45],[0.35,0.2],[0.37,0.3],[0.39,0.25],[0.41,0.38],[0.43,0.35],[0.44,0.55],[0.46,0.5],[0.48,0.55],[0.47,0.68],[0.49,0.65],[0.5,0.8],[0.52,0.5],[0.53,0.78],[0.55,0.68],[0.34,0.08],[0.36,0.12],[0.4,0.2],[0.44,0.28],[0.46,0.35]];

// ---------- styling ----------
const ORANGE = '#E27C5E', ORANGE_HALO = 'rgba(226,124,94,0.2)';
const GREEN = '#7DB195', GREEN_HALO = 'rgba(125,177,149,0.22)', GREEN_HALO2 = 'rgba(125,177,149,0.15)';
const FONT = 'DejaVu Sans';
const wrap = document.getElementById('wrap');
const xy = arr => arr.map(p => ({x: p[0], y: p[1]}));

const framePlugin = {
  id: 'frame',
  afterDatasetsDraw(chart) {
    const {ctx, chartArea: a} = chart;
    ctx.save();
    ctx.strokeStyle = '#3a3a3a';
    ctx.lineWidth = 1;
    ctx.strokeRect(Math.round(a.left) + 0.5, Math.round(a.top) + 0.5, Math.round(a.right - a.left) - 1, Math.round(a.bottom - a.top));
    ctx.restore();
  }
};

function makeChart(s) {
  const cv = document.createElement('canvas');
  cv.width = 243; cv.height = 184;
  cv.style.left = s.left + 'px'; cv.style.top = s.top + 'px';
  cv.style.width = '243px'; cv.style.height = '184px';
  wrap.appendChild(cv);
  const datasets = [{
    type: 'scatter', data: xy(s.pts), pointRadius: 1.1, pointHoverRadius: 1.1,
    pointBackgroundColor: s.color, pointBorderWidth: 0, pointBorderColor: 'rgba(0,0,0,0)'
  }];
  s.shapes.forEach(sh => datasets.push({
    type: 'line', data: xy(sh[0]), fill: 'shape', backgroundColor: sh[1],
    borderWidth: 0, borderColor: 'rgba(0,0,0,0)', pointRadius: 0, tension: 0
  }));
  const tickFont = {family: FONT, size: 7, lineHeight: 1};
  const grid = {color: '#e4e4e4', lineWidth: 0.8, tickLength: 3, tickColor: '#3a3a3a', tickWidth: 0.8};
  new Chart(cv, {
    type: 'scatter',
    data: {datasets},
    options: {
      responsive: false, animation: false, devicePixelRatio: 1,
      layout: {padding: {left: 0, right: 10, top: 0, bottom: 0}},
      plugins: {
        legend: {display: false}, tooltip: {enabled: false},
        title: {display: true, text: s.title, fullSize: false, color: '#111',
          font: {family: FONT, size: 8.3, weight: 'normal', lineHeight: 1}, padding: {top: 2, bottom: 3.7}}
      },
      scales: {
        x: {type: 'linear', min: 0, max: s.xTicks[s.xTicks.length - 1],
          afterBuildTicks: sc => { sc.ticks = s.xTicks.map(v => ({value: v})); },
          afterFit: sc => { sc.height = 20; },
          ticks: {font: tickFont, color: '#262626', padding: 0.5, maxRotation: 0, autoSkip: false,
            callback: v => Number(v).toFixed(s.xDec)},
          grid: grid, border: {display: false},
          title: {display: true, text: 'Shape Complexity', color: '#262626',
            font: {family: FONT, size: 6.5, lineHeight: 1}, padding: {top: 0, bottom: 0}}
        },
        y: {type: 'linear', min: -0.05, max: s.yTicks[s.yTicks.length - 1] + 0.05,
          afterBuildTicks: sc => { sc.ticks = s.yTicks.map(v => ({value: v})); },
          afterFit: sc => { sc.width = 32; },
          ticks: {font: tickFont, color: '#262626', padding: 1.5, autoSkip: false,
            callback: v => Number(v).toFixed(s.yDec)},
          grid: grid, border: {display: false},
          title: {display: true, text: s.yLabel, color: '#262626',
            font: {family: FONT, size: 6.5, lineHeight: 1}, padding: {top: s.yPad, bottom: 0}}
        }
      }
    },
    plugins: [framePlugin]
  });
}

function addTag(text, right, top) {
  const d = document.createElement('div');
  d.className = 'tag'; d.textContent = text;
  d.style.right = right + 'px'; d.style.top = top + 'px';
  wrap.appendChild(d);
}

const fewBase = {xTicks: fewXTicks, yTicks: fewYTicks, xDec: 2, yDec: 1, yLabel: 'Area Ratio', color: ORANGE, yPad: 6.5};
const moreBase = {xTicks: moreXTicks, yTicks: moreYTicks, xDec: 1, yDec: 2, yLabel: 'Region Dissimilarity', color: GREEN, yPad: 2};

makeChart({...fewBase, left: 9, top: 6, title: fewTitle + fewCounts[0], pts: sysuFewPts, shapes: [[sysuFewCore, ORANGE], [sysuFewHalo, ORANGE_HALO]]});
makeChart({...moreBase, left: 255, top: 6, title: moreTitle + moreCounts[0], pts: sysuMorePts, shapes: []});
makeChart({...fewBase, left: 507, top: 6, title: fewTitle + fewCounts[1], pts: whuFewPts, shapes: [[whuFewCore, ORANGE], [whuFewHalo, ORANGE_HALO]]});
makeChart({...moreBase, left: 753, top: 6, title: moreTitle + moreCounts[1], pts: whuMorePts, shapes: [[whuMoreCore, GREEN], [whuMoreHalo, GREEN_HALO]]});
makeChart({...fewBase, left: 9, top: 208, yPad: 6, title: fewTitle + fewCounts[2], pts: cddFewPts, shapes: [[cddFewCore, ORANGE]]});
makeChart({...moreBase, left: 255, top: 208, title: moreTitle + moreCounts[2], pts: cddMorePts, shapes: [[cddMoreCore, GREEN], [cddMoreHaloMid, GREEN_HALO], [cddMoreHaloTop, GREEN_HALO2]]});
makeChart({...fewBase, left: 507, top: 208, yPad: 5.75, title: fewTitle + fewCounts[3], pts: levirFewPts, shapes: [[levirFewCore, ORANGE], [levirFewHalo, ORANGE_HALO]]});
makeChart({...moreBase, left: 753, top: 208, title: moreTitle + moreCounts[3], pts: levirMorePts, shapes: [[levirMoreCore, GREEN], [levirMoreHalo, GREEN_HALO]]});

addTag(datasetNames[0], 512, 151);
addTag(datasetNames[1], 15, 151);
addTag(datasetNames[2], 512, 356);
addTag(datasetNames[3], 10, 356);
</script></body></html>
